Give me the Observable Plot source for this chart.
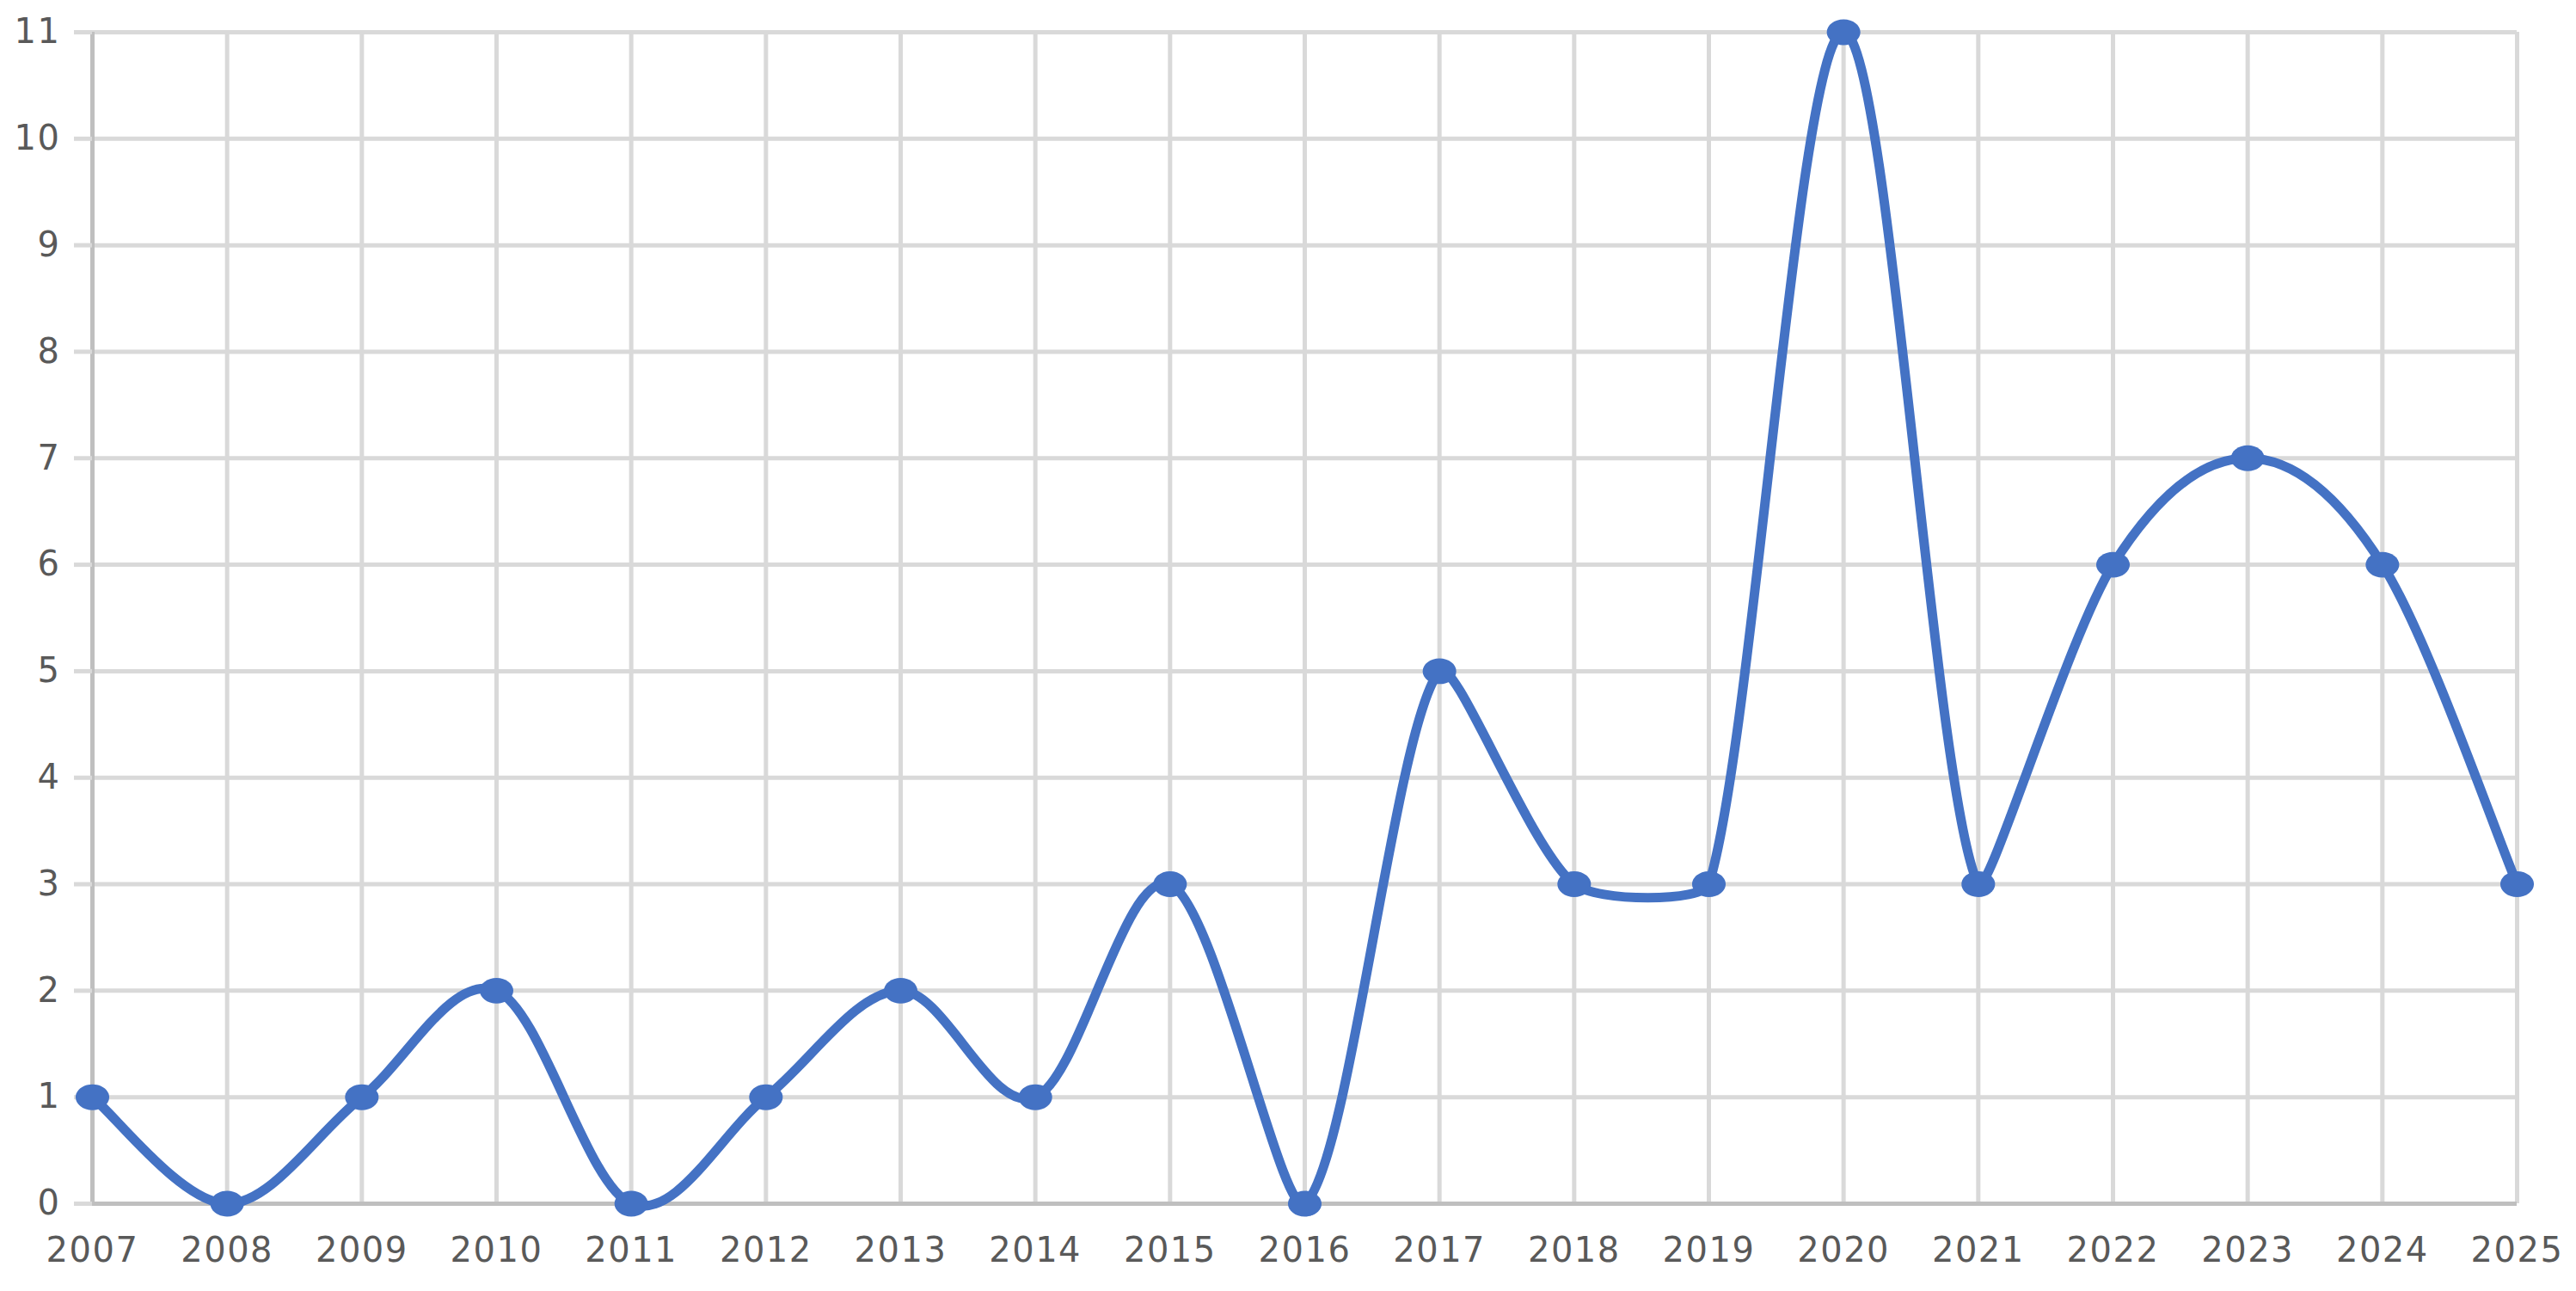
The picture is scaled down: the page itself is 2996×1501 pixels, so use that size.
<!DOCTYPE html>
<html>
<head>
<meta charset="utf-8">
<script src="https://cdn.jsdelivr.net/npm/d3@7"></script>
<script src="https://cdn.jsdelivr.net/npm/@observablehq/plot@0.6"></script>
<style>
  html, body { margin: 0; padding: 0; background: #fff; }
</style>
</head>
<body>
<div id="chart"></div>
<script>
const years = [2007, 2008, 2009, 2010, 2011, 2012, 2013, 2014, 2015, 2016, 2017, 2018, 2019, 2020, 2021, 2022, 2023, 2024, 2025];
const counts = [1, 0, 1, 2, 0, 1, 2, 1, 3, 0, 5, 3, 3, 11, 3, 6, 7, 6, 3];
const yTicks = [0, 1, 2, 3, 4, 5, 6, 7, 8, 9, 10, 11];

const data = years.map((y, i) => ({year: y, value: counts[i]}));

const lineColor = "#4472C4";
const gridColor = "#d9d9d9";
const axisColor = "#bfbfbf";
const textColor = "#595959";
const font = "DejaVu Sans";

// Smoothed line in the spirit of a spreadsheet "smoothed line": Catmull-Rom
// Bezier segments whose control handles are shortened when they would push the
// curve far beyond the segment's own vertical range (limits over/undershoot).
function makeSmooth(maxOvershootPx) {
  function Smooth(context) { this._context = context; }
  Smooth.prototype = {
    areaStart() { this._line = 0; },
    areaEnd() { this._line = NaN; },
    lineStart() { this._pts = []; },
    point(x, y) { this._pts.push([+x, +y]); },
    lineEnd() {
      const p = this._pts, c = this._context, n = p.length;
      if (!n) return;
      c.moveTo(p[0][0], p[0][1]);
      const limit = (P, v, lo, hi) => {
        const ny = P[1] + v[1];
        let over = 0;
        if (ny < lo) over = lo - ny; else if (ny > hi) over = ny - hi;
        if (over <= 0) return v;
        const total = Math.abs(v[1]);
        const s = total > 0 ? Math.max(0, Math.min(1, (total - over + maxOvershootPx) / total)) : 1;
        return [v[0] * s, v[1] * s];
      };
      for (let i = 0; i < n - 1; i++) {
        const P1 = p[i], P2 = p[i + 1];
        const P0 = i > 0 ? p[i - 1] : P1;
        const P3 = i + 2 < n ? p[i + 2] : P2;
        const lo = Math.min(P1[1], P2[1]), hi = Math.max(P1[1], P2[1]);
        let v1 = [(P2[0] - P0[0]) / 6, (P2[1] - P0[1]) / 6];
        let v2 = [-(P3[0] - P1[0]) / 6, -(P3[1] - P1[1]) / 6];
        v1 = limit(P1, v1, lo, hi);
        v2 = limit(P2, v2, lo, hi);
        c.bezierCurveTo(P1[0] + v1[0], P1[1] + v1[1], P2[0] + v2[0], P2[1] + v2[1], P2[0], P2[1]);
      }
    }
  };
  return context => new Smooth(context);
}

// slightly wide elliptical marker, like the reference
const ellipseSymbol = {
  draw(context, size) {
    const r = Math.sqrt(size / Math.PI);
    const rx = r * 1.15, ry = r * 0.88, k = 0.5523;
    context.moveTo(rx, 0);
    context.bezierCurveTo(rx, ry * k, rx * k, ry, 0, ry);
    context.bezierCurveTo(-rx * k, ry, -rx, ry * k, -rx, 0);
    context.bezierCurveTo(-rx, -ry * k, -rx * k, -ry, 0, -ry);
    context.bezierCurveTo(rx * k, -ry, rx, -ry * k, rx, 0);
    context.closePath();
  }
};

const chart = Plot.plot({
  width: 2996,
  height: 1501,
  marginLeft: 107,
  marginRight: 69,
  marginTop: 37,
  marginBottom: 102,
  style: {fontFamily: font, fontSize: "40px", letterSpacing: "1.5px", background: "#fff", color: textColor},
  x: {domain: [2007, 2025]},
  y: {domain: [0, 11]},
  marks: [
    Plot.gridX(years, {stroke: gridColor, strokeOpacity: 1, strokeWidth: 5}),
    Plot.gridY(yTicks, {stroke: gridColor, strokeOpacity: 1, strokeWidth: 5}),
    Plot.ruleX([2007], {stroke: axisColor, strokeWidth: 5}),
    Plot.ruleY([0], {stroke: axisColor, strokeWidth: 5}),
    Plot.axisY(yTicks, {tickSize: 21, tickPadding: 16, stroke: gridColor, strokeWidth: 5, fill: textColor, fontSize: 40, fontFamily: font, label: null, tickFormat: d => String(d)}),
    Plot.axisX(years, {tickSize: 0, tickPadding: 39, fill: textColor, fontSize: 40, fontFamily: font, label: null, tickFormat: d => String(d)}),
    Plot.line(data, {x: "year", y: "value", stroke: lineColor, strokeWidth: 11, curve: makeSmooth(21)}),
    Plot.dot(data, {x: "year", y: "value", r: 17, symbol: ellipseSymbol, fill: lineColor, stroke: null})
  ]
});
document.getElementById("chart").appendChild(chart);
</script>
</body>
</html>
